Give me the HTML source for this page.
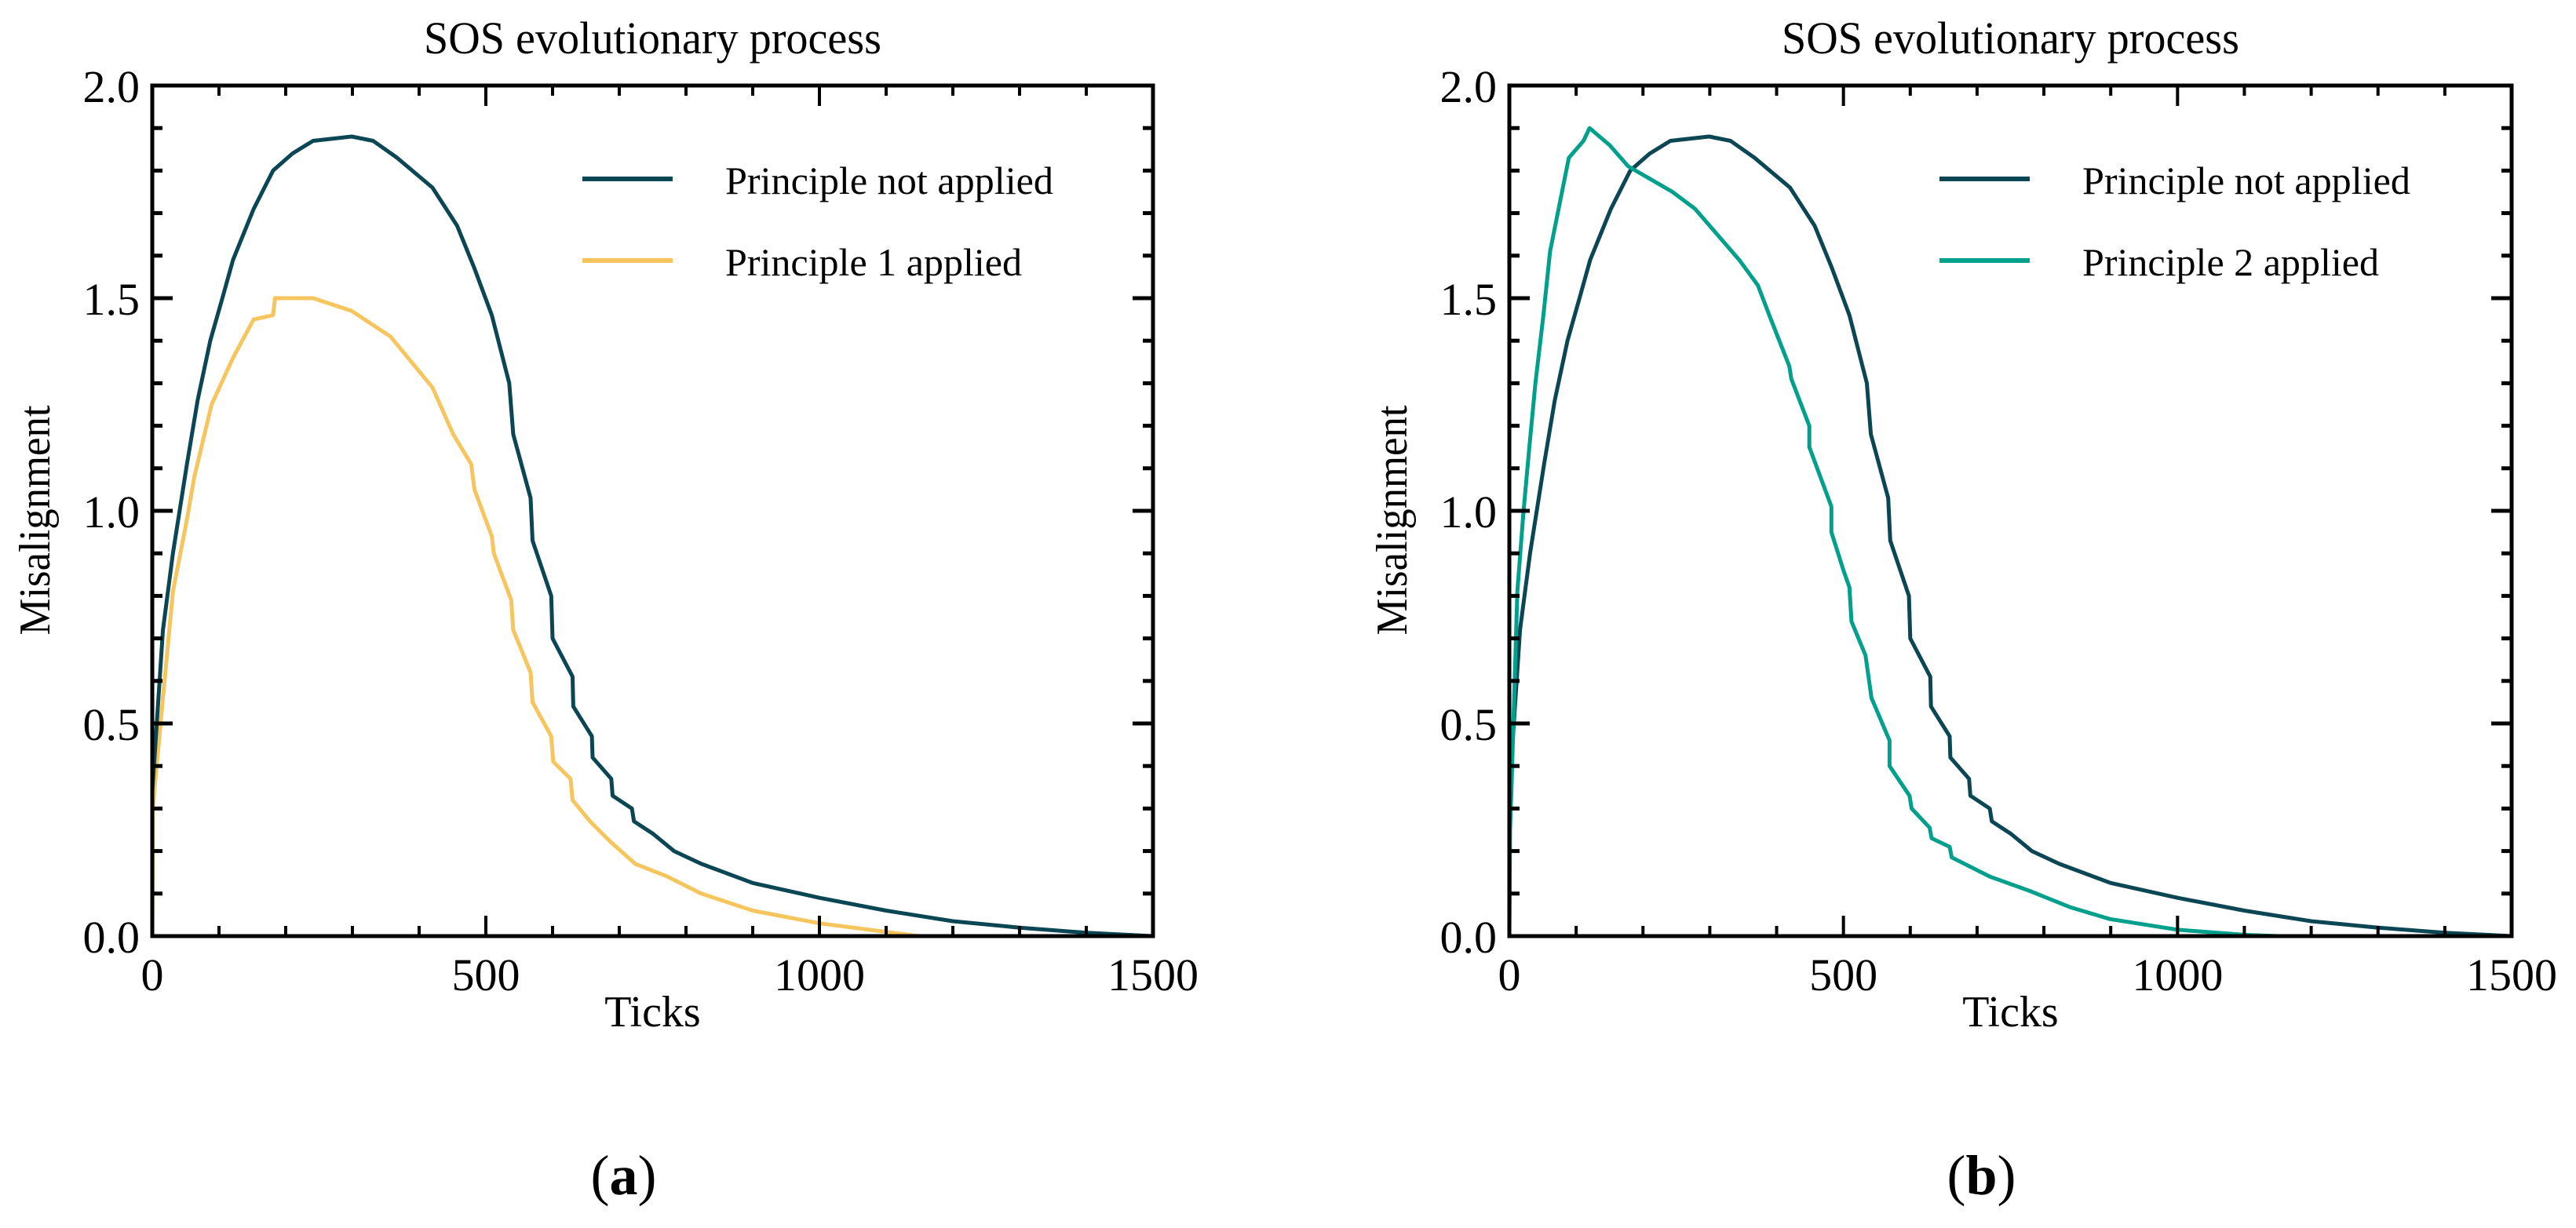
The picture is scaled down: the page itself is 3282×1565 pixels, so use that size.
<!DOCTYPE html>
<html><head><meta charset="utf-8"><style>
html,body{margin:0;padding:0;background:#fff;}
svg{display:block;font-family:"Liberation Serif",serif;}
</style></head><body>
<svg id="fig" xmlns="http://www.w3.org/2000/svg" width="3282" height="1565" viewBox="0 0 3282 1565"></svg>
<script>
// ---- data ----
const xTicksMajor = [0, 500, 1000, 1500];
const yTicksMajor = [0, 0.5, 1.0, 1.5, 2.0];
const yTickLabels = ["0.0", "0.5", "1.0", "1.5", "2.0"];
const notAppliedT = [0,16,31,52,68,87,105,121,152,181,210,241,299,331,367,420,457,483,509,535,541,567,570,598,600,630,631,659,660,688,690,719,722,751,782,823,900,1000,1100,1200,1300,1400,1500];
const notAppliedV = [0.34,0.72,0.90,1.11,1.26,1.40,1.50,1.59,1.71,1.80,1.84,1.87,1.88,1.87,1.83,1.76,1.67,1.57,1.46,1.30,1.18,1.03,0.93,0.80,0.70,0.61,0.54,0.47,0.42,0.37,0.33,0.30,0.27,0.24,0.20,0.17,0.125,0.09,0.06,0.035,0.02,0.008,0.0];
const p1T = [0,1,3,16,31,52,63,89,121,152,181,184,241,299,357,420,451,478,483,509,512,538,541,567,570,598,601,627,630,656,688,724,772,823,900,1000,1100,1150,1500];
const p1V = [0,0.30,0.34,0.56,0.81,0.98,1.08,1.25,1.36,1.45,1.46,1.50,1.50,1.47,1.41,1.29,1.18,1.11,1.05,0.94,0.90,0.79,0.72,0.62,0.55,0.47,0.41,0.37,0.32,0.27,0.22,0.17,0.14,0.10,0.06,0.03,0.01,0.0,0.0];
const p2T = [0,1,3,12,21,30,39,51,61,89,111,120,150,178,211,244,278,311,344,372,389,419,422,449,449,482,482,500,509,512,533,542,569,569,599,602,629,632,659,662,719,779,839,899,939,1000,1100,1150,1500];
const p2V = [0,0.25,0.34,0.81,0.995,1.15,1.30,1.46,1.61,1.83,1.87,1.90,1.86,1.81,1.78,1.75,1.71,1.65,1.59,1.53,1.46,1.34,1.31,1.20,1.15,1.01,0.95,0.86,0.82,0.74,0.66,0.56,0.46,0.40,0.33,0.30,0.255,0.23,0.21,0.185,0.14,0.106,0.068,0.04,0.03,0.015,0.003,0.0,0.0];

const NS = "http://www.w3.org/2000/svg";
const svg = document.getElementById('fig');
function mk(tag, attrs, parent){
  const e = document.createElementNS(NS, tag);
  for (const k in attrs) e.setAttribute(k, attrs[k]);
  (parent||svg).appendChild(e);
  return e;
}
const DARK = "#0b4655", YEL = "#f6c55e", TEAL = "#00a08c";

function panel(x0, x1, y0, y1, series, legendLabels, legendColors, label, prefix){
  const g = mk('g', {});
  
  
  const sx = v => x0 + (v/1500)*(x1-x0);
  const sy = v => y1 - (v/2)*(y1-y0);
  const cx = (x0+x1)/2;
  // title
  const t = mk('text', {x:cx, y:68, 'text-anchor':'middle', 'font-size':58, textLength:583, lengthAdjust:'spacingAndGlyphs'}, g);
  t.textContent = 'SOS evolutionary process';
  
  
  // series
  series.forEach((s, i) => {
    const pts = s.t.map((tt, j) => sx(tt).toFixed(1) + ',' + sy(s.v[j]).toFixed(1)).join(' ');
    const pl = mk('polyline', {points:pts, fill:'none', stroke:s.color, 'stroke-width':5, 'stroke-linejoin':'round'}, g);
    
    
  });
  // ticks
  for (let v = 0; v <= 1500; v += 100){
    const major = v % 500 === 0;
    const L = major ? 26 : 13;
    const X = sx(v);
    const tb = mk('line', {x1:X, x2:X, y1:y1, y2:y1-L, stroke:'#000', 'stroke-width':4}, g);
    
    
    const tt = mk('line', {x1:X, x2:X, y1:y0, y2:y0+L, stroke:'#000', 'stroke-width':4}, g);
    
    
  }
  for (let k = 0; k <= 20; k++){
    const v = k/10;
    const major = k % 5 === 0;
    const L = major ? 26 : 13;
    const Y = sy(v);
    const tl = mk('line', {x1:x0, x2:x0+L, y1:Y, y2:Y, stroke:'#000', 'stroke-width':5}, g);
    
    
    const tr = mk('line', {x1:x1, x2:x1-L, y1:Y, y2:Y, stroke:'#000', 'stroke-width':5}, g);
    
    
  }
  // frame
  const fr = mk('rect', {x:x0, y:y0, width:x1-x0, height:y1-y0, fill:'none', stroke:'#000', 'stroke-width':5}, g);
  
  
  // tick labels
  xTicksMajor.forEach(v => {
    const tx = mk('text', {x:sx(v), y:1262, 'text-anchor':'middle', 'font-size':58}, g);
    tx.textContent = String(v);
    
    
  });
  yTicksMajor.forEach((v, i) => {
    const ty = mk('text', {x:x0-16, y:sy(v)+21, 'text-anchor':'end', 'font-size':58}, g);
    ty.textContent = yTickLabels[i];
    
    
  });
  const xl = mk('text', {x:cx, y:1308, 'text-anchor':'middle', 'font-size':56}, g);
  xl.textContent = 'Ticks';
  
  
  const ylx = x0 - 131;
  const yl = mk('text', {x:ylx, y:663, 'text-anchor':'middle', 'font-size':56, textLength:293, lengthAdjust:'spacingAndGlyphs', transform:'rotate(-90 '+ylx+' 663)'}, g);
  yl.textContent = 'Misalignment';
  
  
  // legend
  const lw = [418, 378];
  legendLabels.forEach((lab, i) => {
    const ly = 228 + i*104;
    const ll = mk('line', {x1:x0+548, x2:x0+663, y1:ly, y2:ly, stroke:legendColors[i], 'stroke-width':6}, g);
    
    
    const lt = mk('text', {x:x0+730, y:ly+19, 'font-size':50, textLength:lw[i], lengthAdjust:'spacingAndGlyphs'}, g);
    lt.textContent = lab;
    
    
  });
  // panel label
  const pl = mk('text', {x:cx-37, y:1522, 'text-anchor':'middle', 'font-size':72}, g);
  
  
  const a = mk('tspan', {}, pl); a.textContent = '(';
  const b = mk('tspan', {'font-weight':'bold'}, pl); b.textContent = label;
  const c = mk('tspan', {}, pl); c.textContent = ')';
}

panel(194, 1469, 109, 1193,
  [{t:p1T, v:p1V, color:YEL, name:'principle-1'}, {t:notAppliedT, v:notAppliedV, color:DARK, name:'not-applied'}],
  ['Principle not applied', 'Principle 1 applied'], [DARK, YEL], 'a', 'panel-a');
panel(1923, 3200, 109, 1193,
  [{t:notAppliedT, v:notAppliedV, color:DARK, name:'not-applied'}, {t:p2T, v:p2V, color:TEAL, name:'principle-2'}],
  ['Principle not applied', 'Principle 2 applied'], [DARK, TEAL], 'b', 'panel-b');
</script>
</body></html>
